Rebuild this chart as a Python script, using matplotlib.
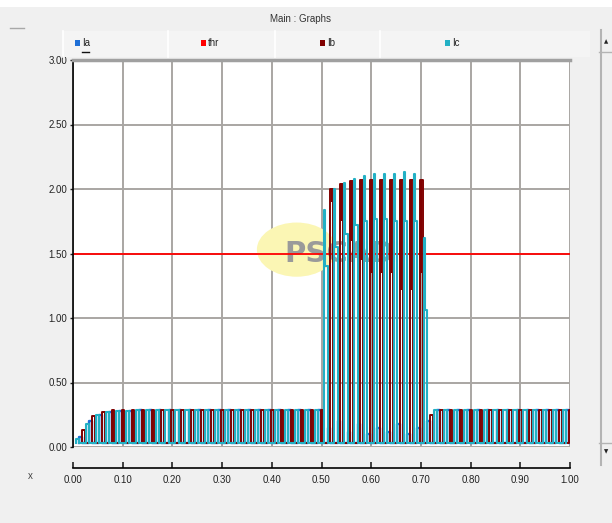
import matplotlib
matplotlib.use("Agg")
import matplotlib.pyplot as plt
from matplotlib.patches import Rectangle, Ellipse
from matplotlib.lines import Line2D

plt.rcParams['font.family'] = ['Liberation Sans Narrow', 'Liberation Sans', 'DejaVu Sans']

# ==== Data ====
# start of each 20 ms cycle
cycles = [0.00, 0.02, 0.04, 0.06, 0.08, 0.10, 0.12, 0.14, 0.16, 0.18,
          0.20, 0.22, 0.24, 0.26, 0.28, 0.30, 0.32, 0.34, 0.36, 0.38,
          0.40, 0.42, 0.44, 0.46, 0.48, 0.50, 0.52, 0.54, 0.56, 0.58,
          0.60, 0.62, 0.64, 0.66, 0.68, 0.70, 0.72, 0.74, 0.76, 0.78,
          0.80, 0.82, 0.84, 0.86, 0.88, 0.90, 0.92, 0.94, 0.96, 0.98]

ia_peak = [0.08, 0.20, 0.25, 0.27, 0.28, 0.28, 0.29, 0.29, 0.29, 0.29,
           0.29, 0.29, 0.29, 0.29, 0.29, 0.29, 0.29, 0.29, 0.29, 0.29,
           0.29, 0.29, 0.29, 0.29, 0.29, 0.15, 0.20, 0.12, 0.18, 0.10,
           0.15, 0.12, 0.18, 0.10, 0.15, 0.20, 0.29, 0.29, 0.29, 0.29,
           0.29, 0.29, 0.29, 0.29, 0.29, 0.29, 0.29, 0.29, 0.29, 0.29]

ib_peak = [0.13, 0.24, 0.27, 0.29, 0.29, 0.29, 0.29, 0.29, 0.29, 0.29,
           0.29, 0.29, 0.29, 0.29, 0.29, 0.29, 0.29, 0.29, 0.29, 0.29,
           0.29, 0.29, 0.29, 0.29, 0.29, 2.00, 2.04, 2.06, 2.07, 2.07,
           2.07, 2.07, 2.07, 2.07, 2.07, 0.25, 0.29, 0.29, 0.29, 0.29,
           0.29, 0.29, 0.29, 0.29, 0.29, 0.29, 0.29, 0.29, 0.29, 0.29]
# lower end of the thick part of the Ib pulses during the fault
ib_mid = [0.13, 0.24, 0.27, 0.29, 0.29, 0.29, 0.29, 0.29, 0.29, 0.29,
          0.29, 0.29, 0.29, 0.29, 0.29, 0.29, 0.29, 0.29, 0.29, 0.29,
          0.29, 0.29, 0.29, 0.29, 0.29, 1.90, 1.75, 1.60, 1.45, 1.35,
          1.35, 1.35, 1.22, 1.22, 1.35, 0.25, 0.29, 0.29, 0.29, 0.29,
          0.29, 0.29, 0.29, 0.29, 0.29, 0.29, 0.29, 0.29, 0.29, 0.29]

ic_peak = [0.06, 0.18, 0.25, 0.27, 0.28, 0.28, 0.29, 0.29, 0.29, 0.29,
           0.29, 0.29, 0.29, 0.29, 0.29, 0.29, 0.29, 0.29, 0.29, 0.29,
           0.29, 0.29, 0.29, 0.29, 0.29, 1.84, 2.00, 2.05, 2.08, 2.10,
           2.12, 2.12, 2.12, 2.13, 2.12, 1.62, 0.29, 0.29, 0.29, 0.29,
           0.29, 0.29, 0.29, 0.29, 0.29, 0.29, 0.29, 0.29, 0.29, 0.29]
ic_shoulder = [0.06, 0.18, 0.25, 0.27, 0.28, 0.28, 0.29, 0.29, 0.29, 0.29,
               0.29, 0.29, 0.29, 0.29, 0.29, 0.29, 0.29, 0.29, 0.29, 0.29,
               0.29, 0.29, 0.29, 0.29, 0.29, 1.40, 1.55, 1.65, 1.72, 1.75,
               1.77, 1.77, 1.75, 1.75, 1.75, 1.06, 0.29, 0.29, 0.29, 0.29,
               0.29, 0.29, 0.29, 0.29, 0.29, 0.29, 0.29, 0.29, 0.29, 0.29]

thr = 1.5
x_ticks = [0.0, 0.1, 0.2, 0.3, 0.4, 0.5, 0.6, 0.7, 0.8, 0.9, 1.0]
y_ticks = [0.0, 0.5, 1.0, 1.5, 2.0, 2.5, 3.0]

c_ia = "#1f6fd6"
c_thr = "#ff0000"
c_ib = "#800000"
c_ic = "#22b0c4"
low = 0.03


def pulses(offset, peak, shoulder, w1, w2):
    xs, ys = [], []
    for t0, p, s in zip(cycles, peak, shoulder):
        t = t0 + offset
        xs += [t, t, t + w1, t + w1, t + w2, t + w2]
        ys += [low, p, p, s, s, low]
    return xs, ys


fig = plt.figure(figsize=(6.12, 5.23), dpi=100)
fig.patch.set_facecolor("#f0f0f0")

# window chrome
fig.patches.append(Rectangle((0, 1 - 7 / 523), 1, 7 / 523, transform=fig.transFigure,
                             facecolor="white", edgecolor="none"))
fig.patches.append(Rectangle((63 / 612, 1 - 57 / 523), (590 - 63) / 612, 26 / 523,
                             transform=fig.transFigure, facecolor="#f4f4f4", edgecolor="none"))
for xp in [63, 168, 275, 380]:
    fig.lines.append(Line2D([xp / 612, xp / 612], [1 - 57 / 523, 1 - 31 / 523],
                            transform=fig.transFigure, color="white", lw=1.2))
fig.lines.append(Line2D([10 / 612, 24 / 612], [1 - 28 / 523, 1 - 28 / 523],
                        transform=fig.transFigure, color="#a8a8a8", lw=1))
fig.text(300 / 612, 1 - 19 / 523, "Main : Graphs", ha="center", va="center", fontsize=7,
         color="#333333")

# legend row
for xp, col, lab in [(75, c_ia, "Ia"), (201, c_thr, "thr"), (320, c_ib, "Ib"), (445, c_ic, "Ic")]:
    fig.patches.append(Rectangle((xp / 612, 1 - 46 / 523), 5 / 612, 6 / 523,
                                 transform=fig.transFigure, facecolor=col, edgecolor="none"))
    fig.text((xp + 7) / 612, 1 - 43 / 523, lab, ha="left", va="center", fontsize=7, color="#222222")
fig.lines.append(Line2D([82 / 612, 89 / 612], [1 - 52 / 523, 1 - 52 / 523],
                        transform=fig.transFigure, color="#111111", lw=1))

# scrollbar on the right
fig.lines.append(Line2D([601 / 612, 601 / 612], [1 - 465 / 523, 1 - 30 / 523],
                        transform=fig.transFigure, color="#b4b4b4", lw=1.5))
fig.lines.append(Line2D([599 / 612, 612 / 612], [1 - 52 / 523, 1 - 52 / 523],
                        transform=fig.transFigure, color="#b4b4b4", lw=1))
fig.lines.append(Line2D([599 / 612, 612 / 612], [1 - 443 / 523, 1 - 443 / 523],
                        transform=fig.transFigure, color="#b4b4b4", lw=1))
fig.text(606 / 612, 1 - 42 / 523, "\u25b2", ha="center", va="center", fontsize=4, color="#222222",
         family=["DejaVu Sans"])
fig.text(606 / 612, 1 - 452 / 523, "\u25bc", ha="center", va="center", fontsize=4, color="#222222",
         family=["DejaVu Sans"])

# ==== Plot ====
ax = fig.add_axes([73 / 612, 1 - 447 / 523, 497 / 612, 387 / 523])
ax.set_facecolor("white")

# PSCAD watermark
ax.add_patch(Ellipse((0.45, 1.53), 0.16, 0.42, facecolor="#fbf6b4", edgecolor="none", zorder=1))
ax.text(0.425, 1.50, "PSCAD", fontsize=21, fontweight="bold", color="#9a9a9a",
        ha="left", va="center", zorder=1.5, family=["Liberation Sans Narrow", "DejaVu Sans"])

ax.axhline(thr, color=c_thr, lw=1.3, zorder=2)

xa, ya = pulses(0.0125, ia_peak, ia_peak, 0.0055, 0.0055)
ax.plot(xa, ya, color=c_ia, lw=1.7, zorder=3)

xb, yb = pulses(0.018, ib_peak, ib_peak, 0.0055, 0.0055)
ax.plot(xb, yb, color=c_ib, lw=1.4, zorder=4)
ax.bar([t + 0.0182 for t in cycles], [p - m for p, m in zip(ib_peak, ib_mid)], bottom=ib_mid,
       width=0.0045, align="edge", color=c_ib, linewidth=0, zorder=4)

xc, yc = pulses(0.006, ic_peak, ic_shoulder, 0.0015, 0.0065)
ax.plot(xc, yc, color=c_ic, lw=1.5, zorder=5)

ax.set_xlim(0, 1)
ax.set_ylim(0, 3)
ax.set_xticks(x_ticks)
ax.set_yticks(y_ticks)
ax.set_xticklabels([f"{v:.2f}" for v in x_ticks])
ax.set_yticklabels([f"{v:.2f}" for v in y_ticks])
ax.grid(True, color="#a9a6a3", lw=1.4, zorder=0)
ax.set_axisbelow(True)

ax.spines["left"].set_color("black")
ax.spines["left"].set_linewidth(1.2)
ax.spines["top"].set_color("#a0a0a0")
ax.spines["top"].set_linewidth(2.5)
ax.spines["right"].set_visible(False)
ax.spines["bottom"].set_position(("outward", 15))
ax.spines["bottom"].set_color("black")
ax.spines["bottom"].set_linewidth(1.2)
ax.tick_params(axis="x", direction="in", length=4, width=1.2, pad=5, colors="#222222", labelsize=7)
ax.tick_params(axis="y", direction="out", length=2, width=1, pad=2, colors="#222222", labelsize=7)

fig.text(30 / 612, 1 - 476 / 523, "x", ha="center", va="center", fontsize=7, color="#444444")

fig.savefig("out.png", dpi=100, facecolor=fig.get_facecolor())
